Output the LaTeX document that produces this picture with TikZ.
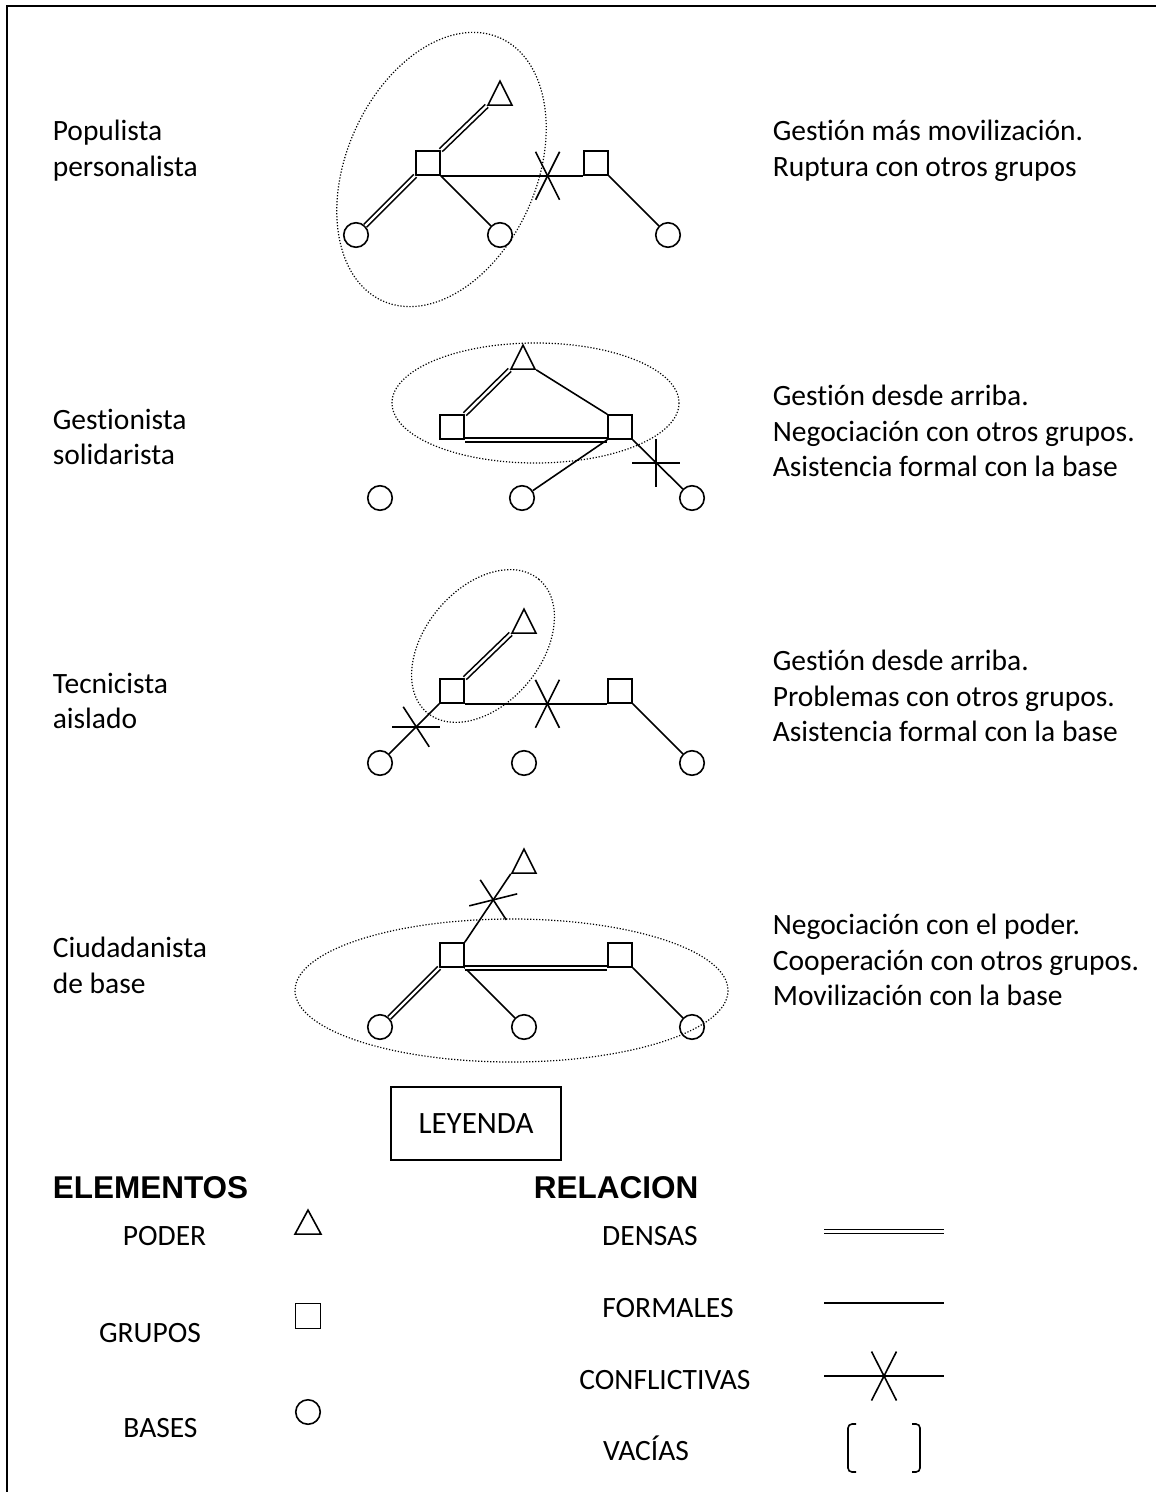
\documentclass[tikz,border=0pt]{standalone}
\usepackage{fontspec}
\setmainfont{Carlito}[Ligatures=NoCommon]
\newfontfamily\arialfont{Liberation Sans}
\usetikzlibrary{shapes.geometric}

\tikzset{
    poder/.style={draw, isosceles triangle, shape border rotate=90, isosceles triangle stretches, minimum width=12pt, minimum height=12pt, inner sep=0pt, anchor=apex},
    grupo/.style={draw, rectangle, minimum size=12pt, inner sep=0pt},
    basenodo/.style={draw, circle, minimum size=12.25pt, inner sep=0pt},
    densa/.style={double, double distance=1.2pt},
    zona/.style={line width=0.6pt, dash pattern=on 0.6pt off 0.9pt},
    texto/.style={align=left, anchor=west, inner sep=0pt, font=\fontsize{14.75}{17.9}\selectfont},
    leyenda/.style={anchor=base, inner sep=0pt, font=\fontsize{14.75}{17.9}\selectfont},
    titulo/.style={anchor=base west, inner sep=0pt, font=\arialfont\bfseries\fontsize{15.75}{19}\selectfont},
}

\begin{document}
\begin{tikzpicture}[x=0.5pt, y=-0.5pt, line width=0.8pt]
    \useasboundingbox (0,0) rectangle (1156,1492);
    \draw[line width=1pt] (7,1492) -- (7,6) -- (1156,6);

    % populista personalista
    \node[texto] (tip1) at (52,151) {Populista\\personalista};
    \node[poder] (pod1) at (500,79) {};
    \node[grupo] (grp1a) at (428,163) {};
    \node[grupo] (grp1b) at (596,163) {};
    \node[basenodo] (bas1a) at (356,235) {};
    \node[basenodo] (bas1b) at (500,235) {};
    \node[basenodo] (bas1c) at (668,235) {};
    \draw[densa] (grp1a.north east) -- (pod1.left corner);
    \draw[densa] (grp1a.south west) -- (bas1a);
    \draw (grp1a.south east) -- (bas1b);
    \draw (grp1a.south east) -- coordinate[pos=0.75] (cnf1) (grp1b.south west);
    \draw (cnf1) ++(-12,-24) -- ++(24,48);
    \draw (cnf1) ++(12,-24) -- ++(-24,48);
    \draw (grp1b.south east) -- (bas1c);
    \draw[zona, rotate around={66:(441.5,169.5)}] (441.5,169.5) ellipse [x radius=144, y radius=95];
    \node[texto] (des1) at (772,151) {Gestión más movilización.\\Ruptura con otros grupos};

    % gestionista solidarista
    \node[texto] (tip2) at (52,437) {Gestionista\\solidarista};
    \node[poder] (pod2) at (523,343) {};
    \node[grupo] (grp2a) at (452,427) {};
    \node[grupo] (grp2b) at (620,427) {};
    \node[basenodo] (bas2a) at (380,498) {};
    \node[basenodo] (bas2b) at (522,498) {};
    \node[basenodo] (bas2c) at (692,498) {};
    \draw[densa] (grp2a.north east) -- (pod2.left corner);
    \draw (pod2.right corner) -- (grp2b.north west);
    \draw[densa] (grp2a.south east) -- (grp2b.south west);
    \draw (grp2b.south west) -- (bas2b);
    \draw (grp2b.south east) -- coordinate[pos=0.47] (cnf2) (bas2c);
    \draw (cnf2) ++(-24,0) -- ++(48,0);
    \draw (cnf2) ++(0,-24) -- ++(0,48);
    \draw[zona] (535.5,403) ellipse [x radius=143.5, y radius=60];
    \node[texto] (des2) at (772,431) {Gestión desde arriba.\\Negociación con otros grupos.\\Asistencia formal con la base};

    % tecnicista aislado
    \node[texto] (tip3) at (52,701) {Tecnicista\\aislado};
    \node[poder] (pod3) at (524,607) {};
    \node[grupo] (grp3a) at (452,691) {};
    \node[grupo] (grp3b) at (620,691) {};
    \node[basenodo] (bas3a) at (380,763) {};
    \node[basenodo] (bas3b) at (524,763) {};
    \node[basenodo] (bas3c) at (692,763) {};
    \draw[densa] (grp3a.north east) -- (pod3.left corner);
    \draw (grp3a.south east) -- coordinate[pos=0.58] (cnf3a) (grp3b.south west);
    \draw (cnf3a) ++(-12,-24) -- ++(24,48);
    \draw (cnf3a) ++(12,-24) -- ++(-24,48);
    \draw (grp3a.south west) -- coordinate[pos=0.46] (cnf3b) (bas3a);
    \draw (cnf3b) ++(-24,0) -- ++(48,0);
    \draw (cnf3b) ++(-13,-20) -- ++(26,40);
    \draw (grp3b.south east) -- (bas3c);
    \draw[zona, rotate around={50:(483,646)}] (483,646) ellipse [x radius=87, y radius=58];
    \node[texto] (des3) at (772,696) {Gestión desde arriba.\\Problemas con otros grupos.\\Asistencia formal con la base};

    % ciudadanista de base
    \node[texto] (tip4) at (52,965) {Ciudadanista\\de base};
    \node[poder] (pod4) at (524,847) {};
    \node[grupo] (grp4a) at (452,955) {};
    \node[grupo] (grp4b) at (620,955) {};
    \node[basenodo] (bas4a) at (380,1027) {};
    \node[basenodo] (bas4b) at (524,1027) {};
    \node[basenodo] (bas4c) at (692,1027) {};
    \draw (grp4a.north east) -- coordinate[pos=0.62] (cnf4) (pod4.left corner);
    \draw (cnf4) ++(-13,-20) -- ++(26,40);
    \draw (cnf4) ++(-24,6) -- ++(48,-12);
    \draw[densa] (grp4a.south west) -- (bas4a);
    \draw (grp4a.south east) -- (bas4b);
    \draw[densa] (grp4a.south east) -- (grp4b.south west);
    \draw (grp4b.south east) -- (bas4c);
    \draw[zona] (511.5,990.5) ellipse [x radius=216.5, y radius=71.5];
    \node[texto] (des4) at (772,960) {Negociación con el poder.\\Cooperación con otros grupos.\\Movilización con la base};

    % leyenda
    \node[draw, minimum width=85pt, minimum height=36.5pt, font=\fontsize{15.5}{17.9}\selectfont] (ley) at (476,1123.5) {LEYENDA};
    \node[titulo] (elem) at (52,1198) {ELEMENTOS};
    \node[titulo] (rel) at (533,1198) {RELACION};
    \node[leyenda] (lpod) at (164.5,1245) {PODER};
    \node[leyenda] (lgrp) at (150,1342) {GRUPOS};
    \node[leyenda] (lbas) at (160.5,1437) {BASES};
    \node[poder, minimum width=13pt] (spod) at (308,1208) {};
    \node[grupo, minimum size=12.5pt] (sgrp) at (308,1316) {};
    \node[basenodo] (sbas) at (308,1412) {};
    \node[leyenda] (lden) at (650,1245) {DENSAS};
    \node[leyenda] (lfor) at (668,1317) {FORMALES};
    \node[leyenda] (lcon) at (665,1389) {CONFLICTIVAS};
    \node[leyenda] (lvac) at (646,1460) {VACÍAS};
    \coordinate (den1) at (824,1231.5);
    \coordinate (den2) at (944,1231.5);
    \coordinate (for1) at (824,1303);
    \coordinate (for2) at (944,1303);
    \coordinate (con1) at (824,1376);
    \coordinate (con2) at (944,1376);
    \draw[densa] (den1) -- (den2);
    \draw (for1) -- (for2);
    \draw (con1) -- coordinate[pos=0.5] (cnf5) (con2);
    \draw (cnf5) ++(-12.5,-24.5) -- ++(25,49);
    \draw (cnf5) ++(12.5,-24.5) -- ++(-25,49);
    \draw[rounded corners=2pt] (856,1424) -- (848,1424) -- (848,1472) -- (856,1472);
    \draw[rounded corners=2pt] (912,1424) -- (920,1424) -- (920,1472) -- (912,1472);
\end{tikzpicture}
\end{document}
